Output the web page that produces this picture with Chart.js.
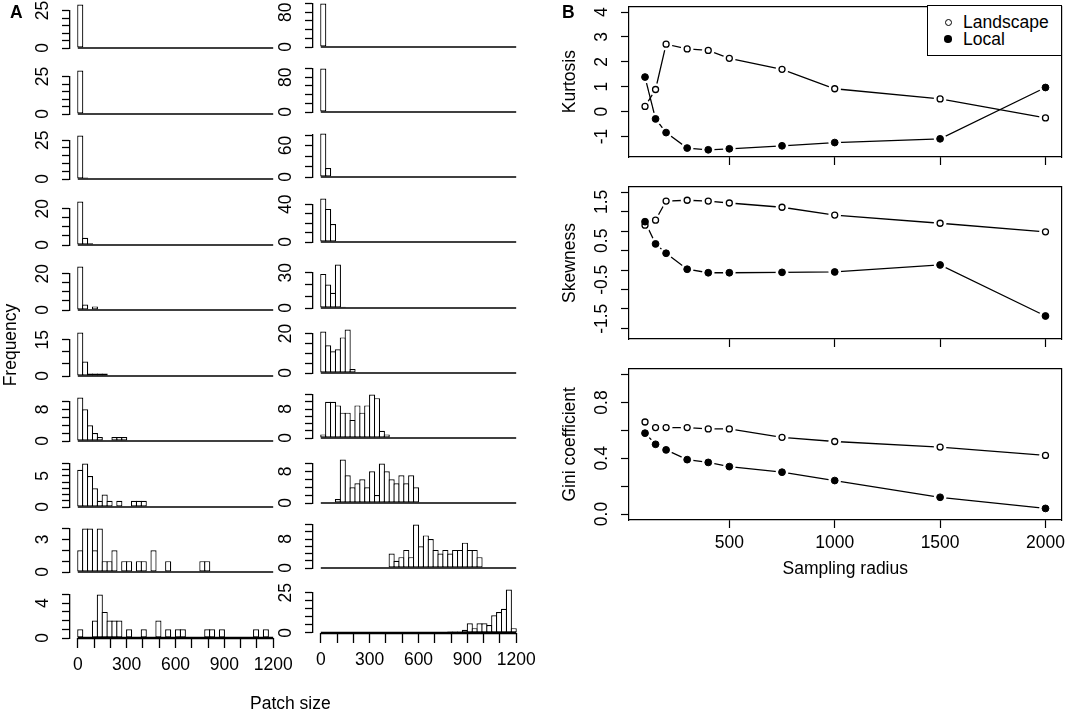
<!DOCTYPE html>
<html lang="en">
<head>
  <meta charset="UTF-8" />
  <title>Patch size distributions and moments by sampling radius</title>
  <script src="https://cdn.jsdelivr.net/npm/chart.js"></script>
  <style>
    body { margin: 0; background: #fff; }
    #fig { position: relative; width: 1071px; height: 712px; overflow: hidden; background: #fff;
           font-family: "Liberation Sans", Arial, Helvetica, sans-serif; color: #000; }
    #fig canvas { position: absolute; }
    .txt { position: absolute; font-size: 17.5px; line-height: 21px; white-space: nowrap; z-index: 2; }
    #legend { position: absolute; left: 927px; top: 5px; width: 135px; height: 51px; box-sizing: border-box;
              border: 1.2px solid #000; background: #fff; z-index: 2; }
    #legend .mk { position: absolute; border-radius: 50%; box-sizing: border-box; }
    #legend .lt { position: absolute; font-size: 17.5px; line-height: 21px; white-space: nowrap; }
  </style>
</head>
<body>
<div id="fig">
  <div class="txt" style="left:10px;top:2px;font-weight:bold">A</div>
  <div class="txt" style="left:562px;top:2px;font-weight:bold">B</div>
  <div class="txt" style="left:10px;top:345px;transform:translate(-50%,-50%) rotate(-90deg)">Frequency</div>
  <div class="txt" style="left:250px;top:693px">Patch size</div>
  <div id="legend">
    <span class="mk" style="left:16.5px;top:12.5px;width:7px;height:7px;border:1.3px solid #000;background:#fff"></span>
    <span class="lt" style="left:35px;top:5.5px">Landscape</span>
    <span class="mk" style="left:16px;top:29px;width:7.5px;height:7.5px;background:#000"></span>
    <span class="lt" style="left:35px;top:22.5px">Local</span>
  </div>
</div>

<script>
  const FONT = '"Liberation Sans", Arial, Helvetica, sans-serif';
  Chart.defaults.font.family = FONT;
  Chart.defaults.font.size = 17.5;
  Chart.defaults.color = '#000';

  // ---- panel A: histograms of patch size (bins of 30) ----
  const binWidth = 30;
  const binStart = Array.from({ length: 40 }, (_, i) => i * binWidth); // breaks 0..1200
  const patchTicks = [0, 100, 200, 300, 400, 500, 600, 700, 800, 900, 1000, 1100, 1200];
  const patchLabels = [0, 300, 600, 900, 1200];

  // left column, rows top to bottom; counts per bin starting at 0, later bins empty
  const histL1 = [29];
  const histL2 = [29];
  const histL3 = [28, 1];
  const histL4 = [24, 4, 1];
  const histL5 = [24, 3, 0, 2];
  const histL6 = [18, 6, 1, 1, 1, 1];
  const histL7 = [11, 8, 4, 2, 1, 0, 0, 1, 1, 1];
  const histL8 = [6, 7, 5, 3, 1, 2, 1, 0, 1, 0, 0, 1, 1, 1];
  const histL9 = [2, 4, 4, 2, 4, 1, 1, 2, 0, 1, 1, 0, 1, 1, 0, 2, 0, 0, 1, 0, 0, 0, 0, 0, 0, 1, 1];
  const histL10 = [1, 0, 0, 2, 5, 3, 2, 2, 2, 0, 1, 0, 0, 1, 0, 0, 2, 0, 1, 0, 1, 1, 0, 0, 0, 0, 1, 1, 0, 1,
                   0, 0, 0, 0, 0, 0, 1, 0, 1];

  // right column
  const histR1 = [100];
  const histR2 = [100];
  const histR3 = [83, 17];
  const histR4 = [46, 35, 19];
  const histR5 = [29, 20, 13, 37, 1];
  const histR6 = [21, 14, 11, 12, 18, 22, 2];
  const histR7 = [1, 10, 10, 9, 7, 7, 5, 9, 7, 9, 12, 11, 2, 1];
  const histR8 = [0, 0, 0, 1, 11, 7, 4, 5, 6, 4, 8, 2, 10, 8, 6, 5, 7, 5, 7, 4];
  const histR9 = [0, 0, 0, 0, 0, 0, 0, 0, 0, 0, 0, 0, 0, 0, 4, 2, 3, 5, 3, 12, 6, 9, 8, 5, 4, 5, 4, 5, 5, 7,
                  5, 5, 3];
  const histR10 = [0, 0, 0, 0, 0, 0, 0, 0, 0, 0, 0, 0, 0, 0, 0, 0, 0, 0, 0, 0, 0, 0, 0, 0, 0, 0, 1, 1, 1, 2,
                   6, 3, 6, 6, 5, 11, 13, 15, 27, 3];

  // frequency axis per row: tick step, last tick, labelled tick
  const histLStep = [5, 5, 5, 5, 5, 5, 2, 1, 1, 1];
  const histLTop = [25, 25, 25, 20, 20, 15, 10, 7, 4, 5];
  const histLLab = [25, 25, 25, 20, 20, 15, 8, 5, 3, 4];
  const histRStep = [20, 20, 20, 10, 10, 5, 2, 2, 2, 5];
  const histRTop = [100, 100, 80, 40, 30, 20, 12, 10, 12, 25];
  const histRLab = [80, 80, 60, 40, 30, 20, 8, 8, 8, 25];

  // ---- panel B: moments by sampling radius ----
  const radius = [100, 150, 200, 300, 400, 500, 750, 1000, 1500, 2000];
  const kurtLandscape = [0.21, 0.89, 2.71, 2.52, 2.46, 2.14, 1.70, 0.92, 0.51, -0.25];
  const kurtLocal = [1.39, -0.29, -0.84, -1.46, -1.53, -1.49, -1.37, -1.24, -1.09, 0.97];
  const skewLandscape = [0.90, 1.03, 1.52, 1.54, 1.52, 1.47, 1.36, 1.16, 0.95, 0.73];
  const skewLocal = [0.99, 0.42, 0.18, -0.23, -0.32, -0.32, -0.31, -0.30, -0.12, -1.43];
  const giniLandscape = [0.66, 0.62, 0.62, 0.62, 0.61, 0.61, 0.55, 0.52, 0.48, 0.42];
  const giniLocal = [0.58, 0.50, 0.46, 0.39, 0.37, 0.34, 0.30, 0.24, 0.12, 0.04];

  const radiusTicks = [500, 1000, 1500, 2000];
  const kurtTicks = [-1, 0, 1, 2, 3, 4];
  const skewMarks = [-1.75, -1.25, -0.75, -0.25, 0.25, 0.75, 1.25, 1.75];
  const skewLabels = [-1.5, -0.5, 0.5, 1.5];
  const giniMarks = [0, 0.2, 0.4, 0.6, 0.8, 1.0];
  const giniLabels = [0, 0.4, 0.8];

  // ---- layout helpers ----
  const PEAK_PX = 43.5;
  const TICK_LEN = 8, LABEL_OFF = 26.5;
  const fig = document.getElementById('fig');
  const meas = document.createElement('canvas').getContext('2d');
  meas.font = '17.5px ' + FONT;
  const tw = s => meas.measureText(s).width;

  function addCanvas(left, top, w, h) {
    const c = document.createElement('canvas');
    c.width = w; c.height = h;
    c.style.left = left + 'px'; c.style.top = top + 'px';
    c.style.width = w + 'px'; c.style.height = h + 'px';
    fig.insertBefore(c, fig.firstChild);
    return c;
  }
  function noPad(s) { s.paddingTop = 0; s.paddingBottom = 0; s.paddingLeft = 0; s.paddingRight = 0; }

  // col: { left, row0, dy } ; row 9 carries the patch-size axis
  function histChart(col, row, counts, step, top, lab) {
    const base = Math.round(col.row0 + col.dy * row);
    const last = row === 9;
    const el = addCanvas(col.left, base - 56, 300, last ? 108 : 62);
    const ppu = PEAK_PX / Math.max(...counts);
    const marks = [];
    for (let v = 0; v <= top; v += step) marks.push(v);
    const labs = [0, lab];
    const pad = LABEL_OFF - TICK_LEN - Math.max(...labs.map(v => tw(String(v)))) / 2;
    const bars = binStart.map((b, i) => ({ x: b + binWidth / 2, y: counts[i] || 0 }));
    const xExt = 0.04 * (patchTicks[patchTicks.length - 1] - patchTicks[0]);

    new Chart(el, {
      type: 'bar',
      data: {
        datasets: [
          { type: 'line', data: [{ x: binStart[0], y: 0 }, { x: binStart[binStart.length - 1] + binWidth, y: 0 }],
            borderColor: '#000', borderWidth: last ? 2.6 : 1.5, pointRadius: 0, clip: false, order: 0 },
          { data: bars, backgroundColor: '#fff', borderColor: '#000', borderWidth: 1.2, borderSkipped: false,
            inflateAmount: 0, barPercentage: 1.25, categoryPercentage: 1, clip: false, order: 1 }
        ]
      },
      options: {
        responsive: false, animation: false, events: [],
        layout: { padding: { left: 0, right: 19, top: 56 - top * ppu, bottom: last ? 0 : 6 } },
        plugins: { legend: { display: false }, tooltip: { enabled: false } },
        scales: {
          x: {
            type: 'linear', min: patchTicks[0] - xExt, max: patchTicks[patchTicks.length - 1] + xExt,
            offset: false, display: last,
            afterBuildTicks: s => { s.ticks = patchTicks.map(v => ({ value: v })); },
            afterFit: s => { s.height = last ? 52 : 0; noPad(s); },
            ticks: { autoSkip: false, maxRotation: 0, padding: 6.5,
                     callback: v => patchLabels.includes(v) ? String(v) : '' },
            grid: { offset: false, drawOnChartArea: false, tickLength: 10, color: '#000', tickColor: '#000', tickWidth: 1.3 },
            border: { display: false }
          },
          y: {
            min: 0, max: top,
            afterBuildTicks: s => { s.ticks = marks.map(v => ({ value: v })); },
            afterFit: s => { s.width = 70; noPad(s); },
            ticks: { autoSkip: false, minRotation: 90, maxRotation: 90, crossAlign: 'center', padding: pad,
                     callback: v => labs.includes(v) ? String(v) : '' },
            grid: { drawOnChartArea: false, tickLength: TICK_LEN, color: '#000', tickColor: '#000', tickWidth: 1.3 },
            border: { display: true, color: '#000', width: 1.3 }
          }
        }
      }
    });
  }

  const colLeft = { left: 0, row0: 48, dy: 65.5 };
  const colRight = { left: 243, row0: 47.3, dy: 65.05 };
  [histL1, histL2, histL3, histL4, histL5, histL6, histL7, histL8, histL9, histL10]
    .forEach((c, i) => histChart(colLeft, i, c, histLStep[i], histLTop[i], histLLab[i]));
  [histR1, histR2, histR3, histR4, histR5, histR6, histR7, histR8, histR9, histR10]
    .forEach((c, i) => histChart(colRight, i, c, histRStep[i], histRTop[i], histRLab[i]));

  function momentChart(cfg) {
    const el = addCanvas(540, cfg.top, 531, cfg.height);
    const pts = v => radius.map((r, i) => ({ x: r, y: v[i] }));
    const line = { showLine: true, pointRadius: 0, borderColor: '#000', borderWidth: 1.3, tension: 0, order: 5 };
    const halo = { showLine: false, pointRadius: 6.3, pointBackgroundColor: '#fff', pointBorderWidth: 0,
                   pointBorderColor: 'rgba(0,0,0,0)', order: 3 };
    const fmt = cfg.fmt || (v => String(v));
    const pad = LABEL_OFF - TICK_LEN - Math.max(...cfg.labels.map(v => tw(fmt(v)))) / 2;
    const allTicks = [...new Set([...cfg.marks, ...cfg.labels])].sort((a, b) => a - b);
    const frame = { display: true, color: '#000', width: 1.2 };

    new Chart(el, {
      type: 'line',
      data: {
        datasets: [
          { ...line, data: pts(cfg.land) },
          { ...line, data: pts(cfg.loc) },
          { ...halo, data: pts(cfg.land) },
          { ...halo, data: pts(cfg.loc) },
          { label: 'Landscape', data: pts(cfg.land), showLine: false, pointRadius: 3, pointBorderWidth: 1.3,
            pointBackgroundColor: '#fff', pointBorderColor: '#000', order: 1 },
          { label: 'Local', data: pts(cfg.loc), showLine: false, pointRadius: 3.4, pointBorderWidth: 1,
            pointBackgroundColor: '#000', pointBorderColor: '#000', order: 0 }
        ]
      },
      options: {
        responsive: false, animation: false, events: [],
        layout: { padding: { left: 0, right: 9.5, top: cfg.padTop, bottom: 0 } },
        plugins: { legend: { display: false }, tooltip: { enabled: false } },
        scales: {
          x: {
            type: 'linear', min: 24, max: 2076,
            afterBuildTicks: s => { s.ticks = radiusTicks.map(v => ({ value: v })); },
            afterFit: s => { s.height = cfg.bottom ? 62 : 14; noPad(s); },
            ticks: { autoSkip: false, maxRotation: 0, padding: 5, callback: v => cfg.bottom ? String(v) : '' },
            grid: { drawOnChartArea: false, tickLength: TICK_LEN, color: '#000', tickColor: '#000', tickWidth: 1.2 },
            border: frame,
            title: { display: !!cfg.bottom, text: 'Sampling radius', padding: { top: 0, bottom: 2.5 } }
          },
          y: {
            min: cfg.min, max: cfg.max,
            afterBuildTicks: s => { s.ticks = allTicks.map(v => ({ value: v })); },
            afterFit: s => { s.width = 89; noPad(s); },
            ticks: { autoSkip: false, minRotation: 90, maxRotation: 90, crossAlign: 'center', padding: pad,
                     callback: v => cfg.labels.includes(v) ? fmt(v) : '' },
            grid: { drawOnChartArea: false, tickLength: TICK_LEN, color: '#000', tickWidth: 1.2,
                    tickColor: c => (c.tick && cfg.marks.includes(c.tick.value)) ? '#000' : 'rgba(0,0,0,0)' },
            border: frame,
            title: { display: true, text: cfg.title, padding: { top: 19.5, bottom: 0 } }
          },
          xTop: { type: 'linear', position: 'top', display: true, ticks: { display: false }, grid: { display: false },
                  border: frame, afterFit: s => { s.height = 0; noPad(s); } },
          yRight: { type: 'linear', position: 'right', display: true, ticks: { display: false }, grid: { display: false },
                    border: frame, afterFit: s => { s.width = 0; noPad(s); } }
        }
      }
    });
  }

  momentChart({ top: 0, height: 171, padTop: 5, min: -1.82, max: 4.23, marks: kurtTicks, labels: kurtTicks,
                title: 'Kurtosis', land: kurtLandscape, loc: kurtLocal });
  momentChart({ top: 180, height: 173, padTop: 7, min: -2.02, max: 1.88, marks: skewMarks, labels: skewLabels,
                fmt: v => v.toFixed(1), title: 'Skewness', land: skewLandscape, loc: skewLocal });
  momentChart({ top: 360, height: 222, padTop: 8.6, min: -0.043, max: 1.043, marks: giniMarks, labels: giniLabels,
                fmt: v => v.toFixed(1), title: 'Gini coefficient', land: giniLandscape, loc: giniLocal, bottom: true });
</script>
</body>
</html>
